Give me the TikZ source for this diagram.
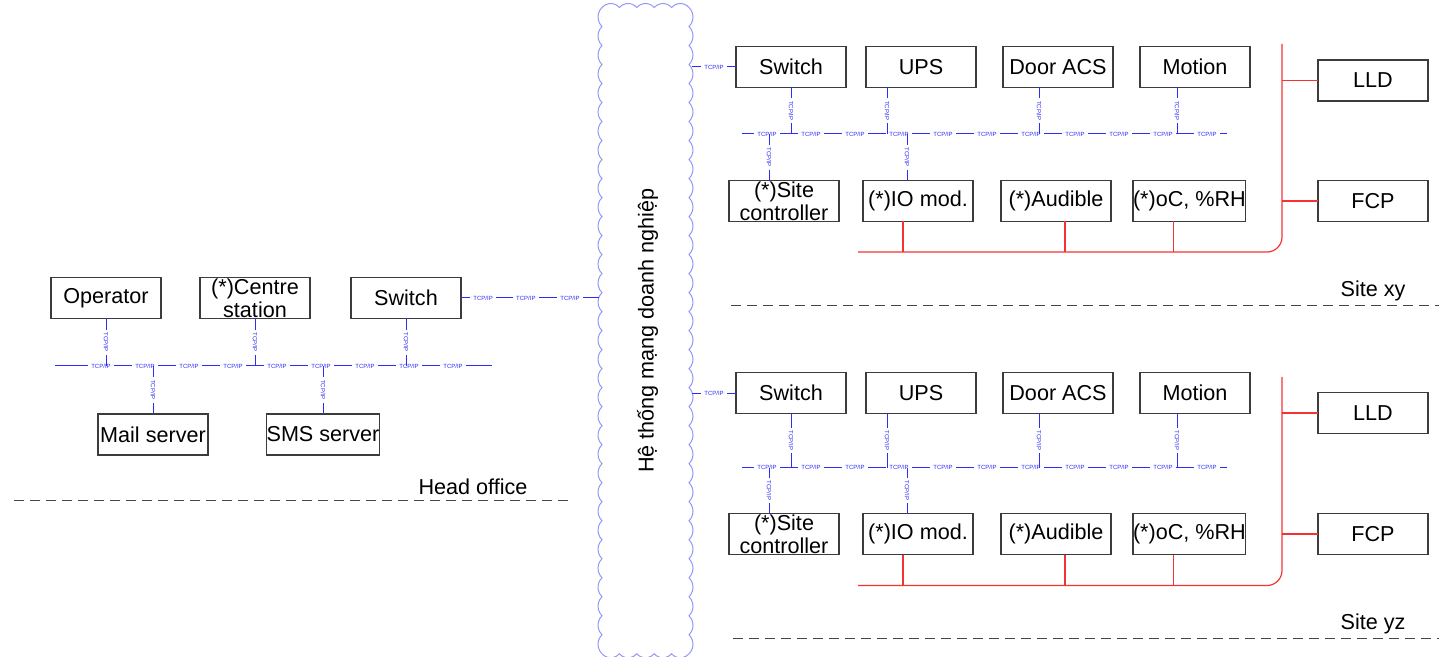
\documentclass[tikz,border=0pt]{standalone}
\usepackage{fontspec}
\setmainfont{Liberation Sans}
\usetikzlibrary{positioning}
\definecolor{netblue}{RGB}{45,45,250}
\definecolor{alarmred}{RGB}{245,50,50}
\definecolor{cloudblue}{RGB}{150,150,250}
\definecolor{boxgray}{RGB}{60,60,60}
\definecolor{zonegray}{RGB}{70,70,70}

\begin{document}
\begin{tikzpicture}[
    x=0.5pt, y=-0.5pt,
    box/.style={rectangle, draw=boxgray, line width=0.6pt, fill=white, minimum width=55pt, minimum height=20.5pt, inner sep=0pt, outer sep=0pt, align=center, font=\fontsize{10.8}{11.5}\selectfont},
    bus/.style={netblue, line width=0.5pt},
    alarm/.style={draw=alarmred, line width=0.6pt},
    tcp/.style={fill=white, text=netblue, inner xsep=1.5pt, inner ysep=0.4pt, font=\fontsize{3}{3}\selectfont},
    tcpv/.style={tcp, rotate=-90},
    zoneline/.style={zonegray, line width=0.5pt, dash pattern=on 5pt off 3pt},
    sitetag/.style={font=\fontsize{10.8}{11.5}\selectfont},
    cloudline/.style={draw=cloudblue, line width=0.5pt}
]
\useasboundingbox (0,0) rectangle (1439,657);

% Enterprise network cloud
\node[minimum width=43.5pt, minimum height=323pt, inner sep=0pt, outer sep=0pt] (net) at (645.5,330.5) {};
\draw[cloudline] (net.north west)
  \foreach \i in {1,...,34} {arc[start angle=134.3, end angle=225.7, radius=6.64pt]}
  \foreach \i in {1,...,5} {arc[start angle=220.6, end angle=319.4, radius=5.73pt]}
  \foreach \i in {1,...,34} {arc[start angle=-45.7, end angle=45.7, radius=6.64pt]}
  \foreach \i in {1,...,5} {arc[start angle=40.6, end angle=139.4, radius=5.73pt]}
  -- cycle;
\node[sitetag, rotate=90] (nettxt) at ([xshift=1pt]net.center) {Hệ thống mạng doanh nghiệp};

% Head office
\node[box] (op) at (106,298) {Operator};
\node[box, right=19.5pt of op] (cs) {(*)Centre\\station};
\node[box, right=20.5pt of cs] (hsw) {Switch};
\node[box] (mail) at (153,434.5) {Mail server};
\node[box] (sms) at (323,434.5) {SMS server};

\coordinate (hbusL) at (55,366);
\coordinate (hbusR) at (492,366);
\draw[bus] (hbusL) -- (hbusR);
\foreach \x in {101,145,...,453} \node[tcp] (ht\x) at (\x,366) {TCP/IP};

\draw[bus] (op.south) -- (op.south |- hbusL) node[tcpv, midway] (opt) {TCP/IP};
\draw[bus] (cs.south) -- (cs.south |- hbusL) node[tcpv, midway] (cst) {TCP/IP};
\draw[bus] (hsw.south) -- (hsw.south |- hbusL) node[tcpv, midway] (hswt) {TCP/IP};
\draw[bus] (mail.north) -- (mail.north |- hbusL) node[tcpv, midway] (mailt) {TCP/IP};
\draw[bus] (sms.north) -- (sms.north |- hbusL) node[tcpv, midway] (smst) {TCP/IP};

\draw[bus] (hsw.east) -- ([xshift=-1.5pt]hsw.east -| net.west) node[tcp, pos=.16] {TCP/IP} node[tcp, pos=.47] {TCP/IP} node[tcp, pos=.79] {TCP/IP};

\node[sitetag] (ho) at (473,487) {Head office};
\coordinate (hoL) at (14,500);
\coordinate (hoR) at (570,500);
\draw[zoneline] (hoL) -- (hoR);

% Site xy
\node[box] (sw1) at (791,67) {Switch};
\node[box, right=10pt of sw1] (ups1) {UPS};
\node[box, right=13.5pt of ups1] (door1) {Door ACS};
\node[box, right=13.5pt of door1] (mot1) {Motion};
\node[box] (sc1) at (784,201) {(*)Site\\controller};
\node[box, right=12pt of sc1] (io1) {(*)IO mod.};
\node[box, right=14pt of io1] (aud1) {(*)Audible};
\node[box, right=11pt of aud1] (rh1) {(*)oC, \%RH};
\node[box] (lld1) at (1373,80.5) {LLD};
\node[box] (fcp1) at (1373,201) {FCP};

\coordinate (bus1L) at (742,134);
\coordinate (bus1R) at (1227,134);
\draw[bus] (bus1L) -- (bus1R);
\foreach \x in {767,811,...,1207} \node[tcp] (at\x) at (\x,134) {TCP/IP};

\draw[bus] (sw1.south) -- (sw1.south |- bus1L) node[tcpv, midway] {TCP/IP};
\draw[bus] ([xshift=-17pt]ups1.south) -- ([xshift=-17pt]ups1.south |- bus1L) node[tcpv, midway] {TCP/IP};
\draw[bus] ([xshift=-9.5pt]door1.south) -- ([xshift=-9.5pt]door1.south |- bus1L) node[tcpv, midway] {TCP/IP};
\draw[bus] ([xshift=-9pt]mot1.south) -- ([xshift=-9pt]mot1.south |- bus1L) node[tcpv, midway] {TCP/IP};
\draw[bus] ([xshift=-7.5pt]sc1.north) -- ([xshift=-7.5pt]sc1.north |- bus1L) node[tcpv, midway] {TCP/IP};
\draw[bus] ([xshift=-5.5pt]io1.north) -- ([xshift=-5.5pt]io1.north |- bus1L) node[tcpv, midway] {TCP/IP};

\draw[bus] (sw1.west) -- ([xshift=1.5pt]sw1.west -| net.east) node[tcp, midway] {TCP/IP};

\coordinate (red1L) at (858,252);
\coordinate (red1C) at (1282,252);
\coordinate (red1T) at (1282,44);
\draw[alarm, rounded corners=7.5pt] (red1L) -- (red1C) -- (red1T);
\draw[alarm] ([xshift=-7.5pt]io1.south) -- ([xshift=-7.5pt]io1.south |- red1L);
\draw[alarm] ([xshift=4.5pt]aud1.south) -- ([xshift=4.5pt]aud1.south |- red1L);
\draw[alarm] ([xshift=-8pt]rh1.south) -- ([xshift=-8pt]rh1.south |- red1L);
\draw[alarm] (lld1.west) -- (lld1.west -| red1T);
\draw[alarm] (fcp1.west) -- (fcp1.west -| red1T);

\node[sitetag] (xy) at (1373,291) {Site xy};
\coordinate (xyL) at (731,305.5);
\coordinate (xyR) at (1439,305.5);
\draw[zoneline] (xyL) -- (xyR);

% Site yz
\node[box] (sw2) at (791,393) {Switch};
\node[box, right=10pt of sw2] (ups2) {UPS};
\node[box, right=13.5pt of ups2] (door2) {Door ACS};
\node[box, right=13.5pt of door2] (mot2) {Motion};
\node[box] (sc2) at (784,534) {(*)Site\\controller};
\node[box, right=12pt of sc2] (io2) {(*)IO mod.};
\node[box, right=14pt of io2] (aud2) {(*)Audible};
\node[box, right=11pt of aud2] (rh2) {(*)oC, \%RH};
\node[box] (lld2) at (1373,413) {LLD};
\node[box] (fcp2) at (1373,534) {FCP};

\coordinate (bus2L) at (742,467.5);
\coordinate (bus2R) at (1227,467.5);
\draw[bus] (bus2L) -- (bus2R);
\foreach \x in {767,811,...,1207} \node[tcp] (bt\x) at (\x,467.5) {TCP/IP};

\draw[bus] (sw2.south) -- (sw2.south |- bus2L) node[tcpv, midway] {TCP/IP};
\draw[bus] ([xshift=-17pt]ups2.south) -- ([xshift=-17pt]ups2.south |- bus2L) node[tcpv, midway] {TCP/IP};
\draw[bus] ([xshift=-9.5pt]door2.south) -- ([xshift=-9.5pt]door2.south |- bus2L) node[tcpv, midway] {TCP/IP};
\draw[bus] ([xshift=-9pt]mot2.south) -- ([xshift=-9pt]mot2.south |- bus2L) node[tcpv, midway] {TCP/IP};
\draw[bus] ([xshift=-7.5pt]sc2.north) -- ([xshift=-7.5pt]sc2.north |- bus2L) node[tcpv, midway] {TCP/IP};
\draw[bus] ([xshift=-5.5pt]io2.north) -- ([xshift=-5.5pt]io2.north |- bus2L) node[tcpv, midway] {TCP/IP};

\draw[bus] (sw2.west) -- ([xshift=1.5pt]sw2.west -| net.east) node[tcp, midway] {TCP/IP};

\coordinate (red2L) at (858,585.5);
\coordinate (red2C) at (1282,585.5);
\coordinate (red2T) at (1282,377);
\draw[alarm, rounded corners=7.5pt] (red2L) -- (red2C) -- (red2T);
\draw[alarm] ([xshift=-7.5pt]io2.south) -- ([xshift=-7.5pt]io2.south |- red2L);
\draw[alarm] ([xshift=4.5pt]aud2.south) -- ([xshift=4.5pt]aud2.south |- red2L);
\draw[alarm] ([xshift=-8pt]rh2.south) -- ([xshift=-8pt]rh2.south |- red2L);
\draw[alarm] (lld2.west) -- (lld2.west -| red2T);
\draw[alarm] (fcp2.west) -- (fcp2.west -| red2T);

\node[sitetag] (yz) at (1373,623.5) {Site yz};
\coordinate (yzL) at (733,638.5);
\coordinate (yzR) at (1439,638.5);
\draw[zoneline] (yzL) -- (yzR);

\end{tikzpicture}
\end{document}
